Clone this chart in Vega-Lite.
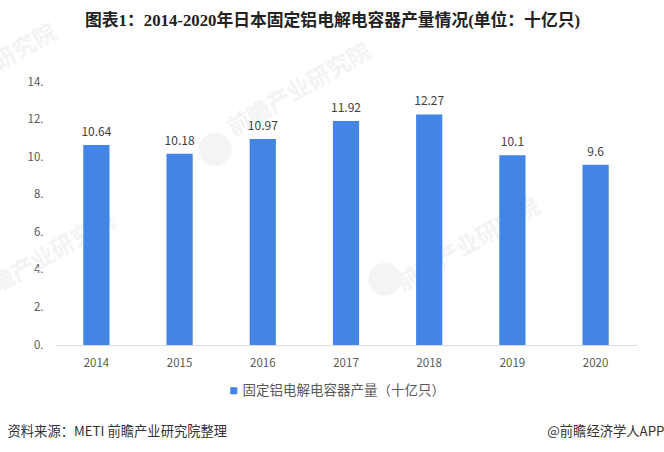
{
  "$schema": "https://vega.github.io/schema/vega-lite/v6.json",
  "description": "图表1\uff1a2014-2020年日本固定铝电解电容器产量情况(单位\uff1a十亿只)",
  "width": 582,
  "height": 263,
  "padding": {"left": 55, "top": 82, "right": 27, "bottom": 107},
  "autosize": "none",
  "background": "#ffffff",
  "title": {
    "text": "图表1\uff1a2014-2020年日本固定铝电解电容器产量情况(单位\uff1a十亿只)",
    "font": "Liberation Serif, Noto Sans CJK SC",
    "fontSize": 16.8,
    "fontWeight": "bold",
    "color": "#222222",
    "anchor": "start",
    "frame": "group",
    "dx": 30,
    "dy": 9,
    "offset": 0
  },
  "config": {
    "font": "Noto Sans CJK SC",
    "view": {"stroke": null}
  },
  "resolve": {"scale": {"x": "independent"}},
  "encoding": {
    "y": {
      "field": "value",
      "type": "quantitative",
      "scale": {"domain": [0, 14]},
      "axis": {
        "title": "@前瞻经济学人APP",
        "titleAngle": 0,
        "titleFontSize": 13.3,
        "titleFontWeight": "normal",
        "titleColor": "#333333",
        "titleAlign": "right",
        "titleBaseline": "middle",
        "titleX": 609,
        "titleY": 349,
        "values": [0, 2, 4, 6, 8, 10, 12, 14],
        "labelExpr": "datum.value + '.'",
        "labelOverlap": false,
        "labelFontSize": 11.5,
        "labelColor": "#595959",
        "labelPadding": 12,
        "ticks": false,
        "domain": false,
        "grid": false
      }
    }
  },
  "layer": [
    {
      "data": {"values": [
        {"px": -12, "value": 14.6, "t": "前瞻产业研究院", "s": 23},
        {"px": 42, "value": 13.56, "t": "前瞻产业研究院", "s": 23},
        {"px": -2, "value": 4.6, "t": "前瞻产业研究院", "s": 23},
        {"px": 71, "value": 5.3, "t": "前瞻产业研究院", "s": 23}
      ]},
      "mark": {"type": "text", "angle": 330, "fontWeight": "bold", "color": "#f2f3f5", "clip": false},
      "encoding": {
        "x": {"field": "px", "type": "quantitative", "scale": {"domain": [0, 100]}, "axis": null},
        "text": {"field": "t"},
        "size": {"field": "s", "type": "quantitative", "scale": null, "legend": null}
      }
    },
    {
      "data": {"values": [
        {"px": 27.5, "value": 10.4},
        {"px": 56.7, "value": 3.5}
      ]},
      "mark": {"type": "point", "filled": true, "color": "#f3f4f6", "opacity": 1, "size": 1100, "clip": false},
      "encoding": {
        "x": {"field": "px", "type": "quantitative", "scale": {"domain": [0, 100]}, "axis": null}
      }
    },
    {
      "data": {"name": "bars", "values": [
        {"year": "2014", "value": 10.64, "series": "固定铝电解电容器产量\uff08十亿只\uff09"},
        {"year": "2015", "value": 10.18, "series": "固定铝电解电容器产量\uff08十亿只\uff09"},
        {"year": "2016", "value": 10.97, "series": "固定铝电解电容器产量\uff08十亿只\uff09"},
        {"year": "2017", "value": 11.92, "series": "固定铝电解电容器产量\uff08十亿只\uff09"},
        {"year": "2018", "value": 12.27, "series": "固定铝电解电容器产量\uff08十亿只\uff09"},
        {"year": "2019", "value": 10.1, "series": "固定铝电解电容器产量\uff08十亿只\uff09"},
        {"year": "2020", "value": 9.6, "series": "固定铝电解电容器产量\uff08十亿只\uff09"}
      ]},
      "layer": [
        {
          "mark": {"type": "bar"},
          "encoding": {
            "x": {
              "field": "year",
              "type": "nominal",
              "scale": {"paddingInner": 0.685, "paddingOuter": 0.34},
              "axis": {
                "title": "资料来源\uff1aMETI 前瞻产业研究院整理",
                "titleFontSize": 13.3,
                "titleFontWeight": "normal",
                "titleColor": "#333333",
                "titleAnchor": "start",
                "titleAlign": "left",
                "titleBaseline": "middle",
                "titleX": -48,
                "titleY": 86,
                "titleLimit": 300,
                "labelAngle": 0,
                "labelFontSize": 11.5,
                "labelColor": "#595959",
                "labelPadding": 12,
                "ticks": false,
                "domainColor": "#d9dde3",
                "domainWidth": 1
              }
            },
            "color": {
              "field": "series",
              "type": "nominal",
              "scale": {"range": ["#4285e4"]},
              "legend": {
                "title": null,
                "orient": "none",
                "legendX": 172,
                "legendY": 302,
                "symbolType": "square",
                "symbolSize": 50,
                "labelFontSize": 13.5,
                "labelColor": "#595959",
                "labelOffset": 2,
                "labelLimit": 300
              }
            }
          }
        },
        {
          "mark": {"type": "text", "dy": -13, "fontSize": 12, "color": "#404040"},
          "encoding": {
            "x": {"field": "year", "type": "nominal"},
            "text": {"field": "value", "type": "nominal"}
          }
        }
      ]
    }
  ]
}
